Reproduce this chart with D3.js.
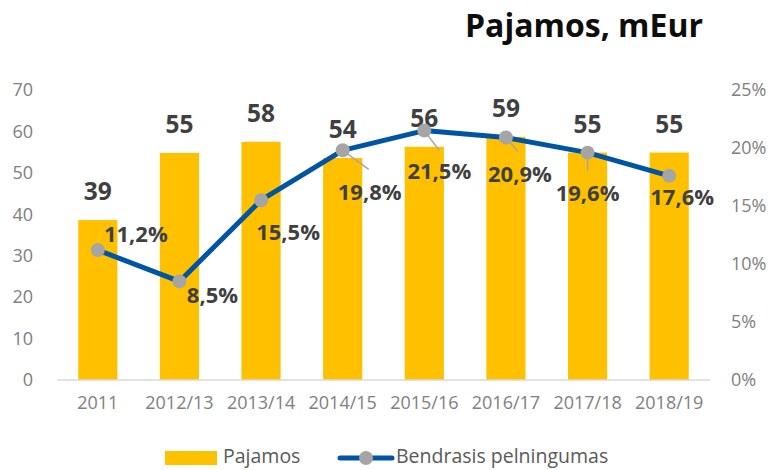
<!DOCTYPE html>
<html>
<head>
<meta charset="utf-8">
<script src="https://cdn.jsdelivr.net/npm/d3@7"></script>
<style>
  body { margin:0; background:#fff; }
  text { font-family: "Open Sans", "Noto Sans", sans-serif; }
</style>
</head>
<body>
<div id="chart-area"></div>
<script>
// data
const years = ["2011","2012/13","2013/14","2014/15","2015/16","2016/17","2017/18","2018/19"];
const revenue = [38.6, 54.8, 57.5, 53.6, 56.3, 58.7, 54.9, 54.9];   // Pajamos, mEur
const margin = [11.2, 8.5, 15.5, 19.8, 21.5, 20.9, 19.6, 17.6];      // Bendrasis pelningumas, %
const leftTicks = [0, 10, 20, 30, 40, 50, 60, 70];
const rightTicks = [0, 5, 10, 15, 20, 25];

// manual placement of the % labels (label centre / baseline relative to the point)
const pctLabelOffset = [[38,-8],[33,22],[27,40],[27,50],[15,48],[14,44],[0,48],[13,29]];
// leader lines (null = none)
const leaderEnd = [null,null,null,[26,19],[15,20],[12,14],[0,18],null];

const W = 769, H = 470;
const plot = { left:57, right:710, top:90, bottom:380 };

const svg = d3.select("#chart-area")
    .append("svg")
    .attr("width", W)
    .attr("height", H);

const x = d3.scaleBand()
    .domain(years)
    .range([plot.left, plot.right])
    .padding(0);

const y = d3.scaleLinear()
    .domain([0, 70])
    .range([plot.bottom, plot.top]);

const y2 = d3.scaleLinear()
    .domain([0, 25])
    .range([plot.bottom, plot.top]);

const barW = x.bandwidth() * 0.48;
const cx = d => x(d) + x.bandwidth() / 2;

// title
svg.append("text")
    .attr("x", 703)
    .attr("y", 37)
    .attr("text-anchor", "end")
    .attr("font-size", "32px")
    .attr("font-weight", "bold")
    .attr("fill", "#0d0d0d")
    .text("Pajamos, mEur");

// left axis
const leftAxis = svg.append("g")
    .attr("transform", "translate(" + plot.left + ",0)")
    .call(d3.axisLeft(y).tickValues(leftTicks).tickSize(0).tickPadding(24));
leftAxis.select(".domain").remove();
leftAxis.selectAll("text")
    .attr("font-size", "18px")
    .attr("font-family", "Open Sans")
    .attr("fill", "#808080");

// right axis
const rightAxis = svg.append("g")
    .attr("transform", "translate(" + plot.right + ",0)")
    .call(d3.axisRight(y2).tickValues(rightTicks).tickSize(0).tickPadding(21)
        .tickFormat(d => d + "%"));
rightAxis.select(".domain").remove();
rightAxis.selectAll("text")
    .attr("font-size", "18px")
    .attr("font-family", "Open Sans")
    .attr("fill", "#808080");

// bottom axis
const bottomAxis = svg.append("g")
    .attr("transform", "translate(0," + plot.bottom + ")")
    .call(d3.axisBottom(x).tickSize(0).tickPadding(16));
bottomAxis.select(".domain").remove();
bottomAxis.selectAll("text")
    .attr("font-size", "18px")
    .attr("font-family", "Open Sans")
    .attr("fill", "#808080");

// bars
svg.selectAll("rect.bar")
    .data(revenue)
    .enter()
    .append("rect")
        .attr("class", "bar")
        .attr("x", (d, i) => cx(years[i]) - barW / 2)
        .attr("y", d => y(d))
        .attr("width", barW)
        .attr("height", d => y(0) - y(d))
        .attr("fill", "#FFC000");

// baseline
svg.append("line")
    .attr("x1", plot.left).attr("x2", plot.right)
    .attr("y1", y(0)).attr("y2", y(0))
    .attr("stroke", "#d9d9d9")
    .attr("stroke-width", 1.3);

// bar value labels
svg.selectAll("text.val")
    .data(revenue)
    .enter()
    .append("text")
        .attr("class", "val")
        .attr("x", (d, i) => cx(years[i]))
        .attr("y", d => y(d) - 20)
        .attr("text-anchor", "middle")
        .attr("font-size", "24.5px")
        .attr("font-weight", "bold")
        .attr("fill", "#404040")
        .text(d => d3.format(".0f")(d));

// leader lines
const leaders = margin
    .map((d, i) => ({ v: d, i: i }))
    .filter(d => leaderEnd[d.i]);

svg.selectAll("line.leader")
    .data(leaders)
    .enter()
    .append("line")
        .attr("class", "leader")
        .attr("x1", d => cx(years[d.i]))
        .attr("y1", d => y2(d.v))
        .attr("x2", d => cx(years[d.i]) + leaderEnd[d.i][0])
        .attr("y2", d => y2(d.v) + leaderEnd[d.i][1])
        .attr("stroke", "#a6a6a6")
        .attr("stroke-width", 1.5);

// line
const line = d3.line()
    .x((d, i) => cx(years[i]))
    .y(d => y2(d));

svg.append("path")
    .datum(margin)
    .attr("d", line)
    .attr("fill", "none")
    .attr("stroke", "#0054a6")
    .attr("stroke-width", 5)
    .attr("stroke-linejoin", "round");

svg.selectAll("circle.pt")
    .data(margin)
    .enter()
    .append("circle")
        .attr("class", "pt")
        .attr("cx", (d, i) => cx(years[i]))
        .attr("cy", d => y2(d))
        .attr("r", 7)
        .attr("fill", "#a5a5a5");

// % labels
svg.selectAll("text.pct")
    .data(margin)
    .enter()
    .append("text")
        .attr("class", "pct")
        .attr("x", (d, i) => cx(years[i]) + pctLabelOffset[i][0])
        .attr("y", (d, i) => y2(d) + pctLabelOffset[i][1])
        .attr("text-anchor", "middle")
        .attr("font-size", "22px")
        .attr("font-weight", "bold")
        .attr("fill", "#404040")
        .text(d => d3.format(".1f")(d).replace(".", ",") + "%");

// legend
const legend = svg.append("g");
legend.append("rect")
    .attr("x", 165).attr("y", 451)
    .attr("width", 52).attr("height", 14)
    .attr("fill", "#FFC000");
legend.append("text")
    .attr("x", 223).attr("y", 463)
    .attr("font-size", "19.5px")
    .attr("fill", "#595959")
    .text("Pajamos");
legend.append("line")
    .attr("x1", 340).attr("x2", 392)
    .attr("y1", 458).attr("y2", 458)
    .attr("stroke", "#0054a6")
    .attr("stroke-width", 5)
    .attr("stroke-linecap", "round");
legend.append("circle")
    .attr("cx", 366).attr("cy", 458)
    .attr("r", 7)
    .attr("fill", "#a5a5a5");
legend.append("text")
    .attr("x", 396).attr("y", 463)
    .attr("font-size", "19.5px")
    .attr("fill", "#595959")
    .text("Bendrasis pelningumas");
</script>
</body>
</html>
